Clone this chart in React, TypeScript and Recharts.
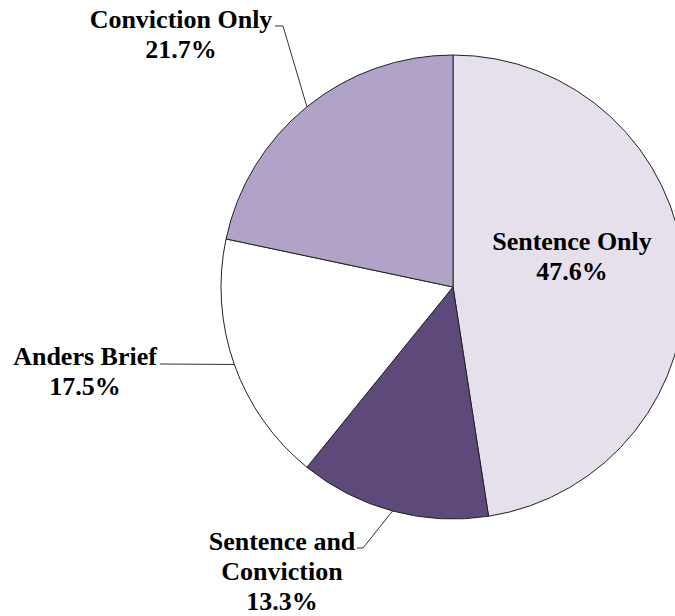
import React from "react";
import { Cell, Pie, PieChart } from "recharts";

const categories = ["Sentence Only", "Sentence and Conviction", "Anders Brief", "Conviction Only"];
const shares = [47.6, 13.3, 17.5, 21.7];
const labelLines = [["Sentence Only"], ["Sentence and", "Conviction"], ["Anders Brief"], ["Conviction Only"]];

const colors = ["#E6DFEC", "#5E4A7A", "#FFFFFF", "#B1A2C8"];

// label placement: text centre x, first baseline y, and leader elbow/end (null = inside)
const labelLayout = [
  { x: 572, y: 250, leader: null },
  { x: 282, y: 550, leader: [[363, 548], [357, 548]] },
  { x: 85, y: 365, leader: [[160, 364]] },
  { x: 181, y: 28, leader: [[283, 26], [275, 26]] },
];

const data = categories.map((name, i) => ({ name, value: shares[i] }));

const RADIAN = Math.PI / 180;
const LINE_H = 30;
const FONT = "'Liberation Serif', 'Times New Roman', Times, serif";

function renderLabel(props: any) {
  const { cx, cy, midAngle, outerRadius, index } = props;
  const layout = labelLayout[index];
  const sx = cx + outerRadius * Math.cos(-midAngle * RADIAN);
  const sy = cy + outerRadius * Math.sin(-midAngle * RADIAN);
  const lines = [...labelLines[index], `${shares[index].toFixed(1)}%`];
  let d = "";
  if (layout.leader) {
    d = `M${sx},${sy}` + layout.leader.map((p) => ` L${p[0]},${p[1]}`).join("");
  }
  return (
    <g key={`lbl-${index}`}>
      {d && <path d={d} stroke="#000" strokeWidth={0.8} fill="none" />}
      <text
        x={layout.x}
        y={layout.y}
        textAnchor="middle"
        fill="#000"
        style={{ fontFamily: FONT, fontWeight: 700, fontSize: 26 }}
      >
        {lines.map((t, j) => (
          <tspan key={j} x={layout.x} y={layout.y + j * LINE_H}>
            {t}
          </tspan>
        ))}
      </text>
    </g>
  );
}

export default function App() {
  return (
    <div
      style={{
        position: "absolute",
        left: 0,
        top: 0,
        width: 675,
        height: 616,
        background: "#fff",
        fontFamily: FONT,
      }}
    >
      <PieChart width={675} height={616} margin={{ top: 0, right: 0, bottom: 0, left: 0 }}>
        <Pie
          data={data}
          dataKey="value"
          nameKey="name"
          cx={453}
          cy={287}
          outerRadius={232}
          startAngle={90}
          endAngle={-270}
          stroke="#222"
          strokeWidth={1}
          label={renderLabel}
          labelLine={false}
          isAnimationActive={false}
        >
          {data.map((d, i) => (
            <Cell key={d.name} fill={colors[i]} />
          ))}
        </Pie>
      </PieChart>
    </div>
  );
}
